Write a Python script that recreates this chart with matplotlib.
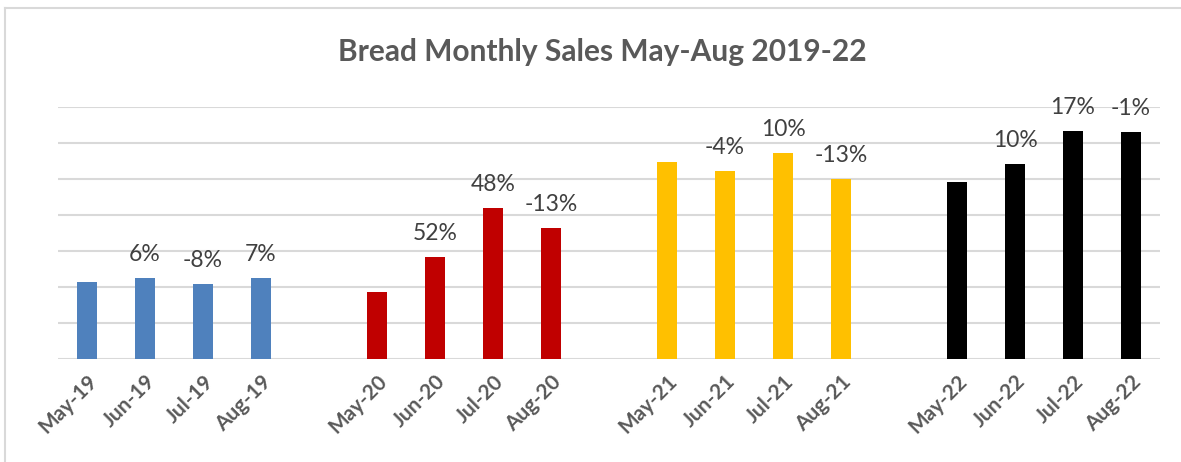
import numpy as np
import matplotlib.pyplot as plt
from matplotlib.lines import Line2D

plt.rcParams['font.family'] = ['Lato', 'DejaVu Sans']

months = ['May', 'Jun', 'Jul', 'Aug']
years = ['19', '20', '21', '22']
colors = ['#4F81BD', '#C00000', '#FFC000', '#000000']

sales_19 = [2.14, 2.25, 2.08, 2.25]
sales_20 = [1.86, 2.83, 4.19, 3.64]
sales_21 = [5.47, 5.22, 5.72, 5.00]
sales_22 = [4.92, 5.42, 6.33, 6.31]
sales = [sales_19, sales_20, sales_21, sales_22]

change_19 = ['', '6%', '-8%', '7%']
change_20 = ['', '52%', '48%', '-13%']
change_21 = ['', '-4%', '10%', '-13%']
change_22 = ['', '10%', '17%', '-1%']
changes = [change_19, change_20, change_21, change_22]

fig = plt.figure(figsize=(11.81, 4.62), dpi=100)
ax = fig.add_axes([58/1181, 1 - 359/462, (1160 - 58)/1181, (359 - 107)/462])

tick_pos = []
tick_lab = []
for g in range(4):
    x = np.arange(4) + g * 5
    ax.bar(x, sales[g], width=0.345, color=colors[g], zorder=3)
    for xi, v, lab in zip(x, sales[g], changes[g]):
        if lab:
            ax.annotate(lab, (xi, v), xytext=(0, 12), textcoords='offset points',
                        ha='center', va='baseline', fontsize=16.5, color='#404040')
    tick_pos += list(x)
    tick_lab += [m + '-' + years[g] for m in months]

ax.set_xlim(-0.5, 18.5)
ax.set_ylim(0, 7)
ax.set_yticks(np.arange(0, 8))
ax.set_yticklabels([])
ax.yaxis.grid(True, color='#d9d9d9', linewidth=1.5, zorder=0)
ax.tick_params(axis='both', length=0)
for s in ax.spines.values():
    s.set_visible(False)

ax.set_xticks(tick_pos)
ax.set_xticklabels(tick_lab, rotation=45, ha='right', rotation_mode='anchor',
                   fontsize=15, fontweight='bold', color='#595959')
ax.tick_params(axis='x', pad=9)

fig.text(602/1181, 1 - 52/462, 'Bread Monthly Sales May-Aug 2019-22',
         ha='center', va='center', fontsize=21.5, fontweight='bold', color='#595959')

fig.add_artist(Line2D([5/1181, 1], [1 - 8/462, 1 - 8/462], color='#d9d9d9', linewidth=1.5))
fig.add_artist(Line2D([5/1181, 5/1181], [0, 1 - 8/462], color='#d9d9d9', linewidth=1.5))

fig.savefig('out.png', dpi=100)
